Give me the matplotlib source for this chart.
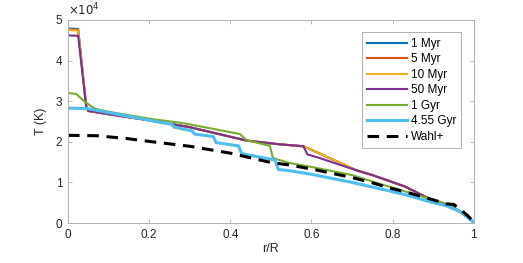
import numpy as np
import matplotlib
matplotlib.use('Agg')
import matplotlib.pyplot as plt

plt.rcParams['font.family'] = ['Liberation Sans', 'DejaVu Sans']

# temperature in units of 1e4 K, radius in r/R
r_myr = [0, 0.025, 0.045, 0.05, 0.1, 0.2, 0.3, 0.44, 0.52, 0.58, 0.629, 0.695, 0.71, 0.75, 0.83, 0.89, 0.933, 0.966, 1.0]
T_1myr = [4.79, 4.78, 2.86, 2.76, 2.68, 2.53, 2.36, 2.03, 1.94, 1.89, 1.67, 1.37, 1.3, 1.18, 0.9, 0.6, 0.46, 0.29, 0.02]
T_5myr = [4.77, 4.76, 2.86, 2.76, 2.68, 2.53, 2.36, 2.03, 1.94, 1.89, 1.67, 1.37, 1.3, 1.18, 0.9, 0.6, 0.46, 0.29, 0.02]
T_10myr = [4.75, 4.74, 2.86, 2.76, 2.68, 2.53, 2.36, 2.03, 1.94, 1.89, 1.67, 1.37, 1.3, 1.18, 0.9, 0.6, 0.46, 0.29, 0.02]

r_50myr = [0, 0.025, 0.045, 0.05, 0.1, 0.2, 0.3, 0.44, 0.52, 0.58, 0.59, 0.62, 0.71, 0.75, 0.83, 0.89, 0.933, 0.966, 1.0]
T_50myr = [4.62, 4.61, 2.86, 2.76, 2.68, 2.53, 2.36, 2.03, 1.94, 1.89, 1.69, 1.6, 1.3, 1.18, 0.9, 0.6, 0.46, 0.29, 0.02]

r_1gyr = [0, 0.02, 0.04, 0.065, 0.1, 0.2, 0.276, 0.3, 0.424, 0.44, 0.4975, 0.505, 0.545, 0.6, 0.7, 0.77, 0.83, 0.89, 0.933, 0.966, 1.0]
T_1gyr = [3.2, 3.18, 3.0, 2.82, 2.74, 2.57, 2.47, 2.43, 2.19, 2.04, 1.9, 1.6, 1.48, 1.38, 1.18, 0.96, 0.78, 0.6, 0.46, 0.29, 0.02]

r_455gyr = [0, 0.046, 0.1, 0.2, 0.255, 0.262, 0.305, 0.312, 0.358, 0.365, 0.42, 0.428, 0.51, 0.518, 0.545, 0.6, 0.7, 0.77, 0.83, 0.89, 0.933, 0.966, 1.0]
T_455gyr = [2.83, 2.82, 2.72, 2.53, 2.43, 2.36, 2.27, 2.19, 2.13, 1.98, 1.9, 1.71, 1.55, 1.32, 1.29, 1.2, 1.0, 0.84, 0.7, 0.53, 0.42, 0.28, 0.02]

r_wahl = [0, 0.07, 0.145, 0.2, 0.3, 0.4, 0.5, 0.545, 0.6, 0.7, 0.75, 0.79, 0.83, 0.89, 0.933, 0.95, 0.966, 0.985, 1.0]
T_wahl = [2.16, 2.15, 2.08, 2.01, 1.89, 1.72, 1.49, 1.43, 1.33, 1.12, 0.99, 0.87, 0.77, 0.6, 0.47, 0.46, 0.34, 0.18, 0.02]

labels = ['1 Myr', '5 Myr', '10 Myr', '50 Myr', '1 Gyr', '4.55 Gyr', 'Wahl+']
colors = ['#0072BD', '#D95319', '#EDB120', '#7E2F8E', '#77AC30', '#4DBEEE']

fig = plt.figure(figsize=(5.23, 2.63), dpi=100)
ax = fig.add_axes([0.130, 0.152, 0.776, 0.772])

ax.plot(r_myr, T_1myr, color=colors[0], lw=1.5, label=labels[0])
ax.plot(r_myr, T_5myr, color=colors[1], lw=1.5, label=labels[1])
ax.plot(r_myr, T_10myr, color=colors[2], lw=1.5, label=labels[2])
ax.plot(r_50myr, T_50myr, color=colors[3], lw=1.5, label=labels[3])
ax.plot(r_1gyr, T_1gyr, color=colors[4], lw=1.5, label=labels[4])
ax.plot(r_455gyr, T_455gyr, color=colors[5], lw=2.2, label=labels[5])
ax.plot(r_wahl, T_wahl, color='k', lw=2.2, ls=(0, (3.8, 2.5)), label=labels[6])

ax.set_xlim(0, 1)
ax.set_ylim(0, 5)
ax.set_xticks([0, 0.2, 0.4, 0.6, 0.8, 1])
ax.set_xticklabels(['0', '0.2', '0.4', '0.6', '0.8', '1'])
ax.set_yticks([0, 1, 2, 3, 4, 5])

gray = '#b0b0b0'
for s in ax.spines.values():
    s.set_color(gray)
    s.set_linewidth(0.7)
ax.tick_params(direction='in', top=True, right=True, length=3, width=0.6,
               color=gray, labelcolor='#262626', labelsize=8.5, pad=4)

ax.set_xlabel('r/R', fontsize=9, color='#262626', labelpad=2)
ax.set_ylabel('T (K)', fontsize=9, color='#262626', labelpad=6)
ax.text(0.0, 1.01, r'$\times10^{4}$', transform=ax.transAxes, ha='left', va='bottom',
        fontsize=8.5, color='#262626')

leg = ax.legend(loc='upper right', fontsize=8.5, handlelength=3.4, handletextpad=0.3,
                labelspacing=0.3, borderaxespad=1.05, fancybox=False, framealpha=1,
                borderpad=0.45)
leg.get_frame().set_edgecolor(gray)
leg.get_frame().set_linewidth(0.7)

fig.savefig('out.png', dpi=100)
